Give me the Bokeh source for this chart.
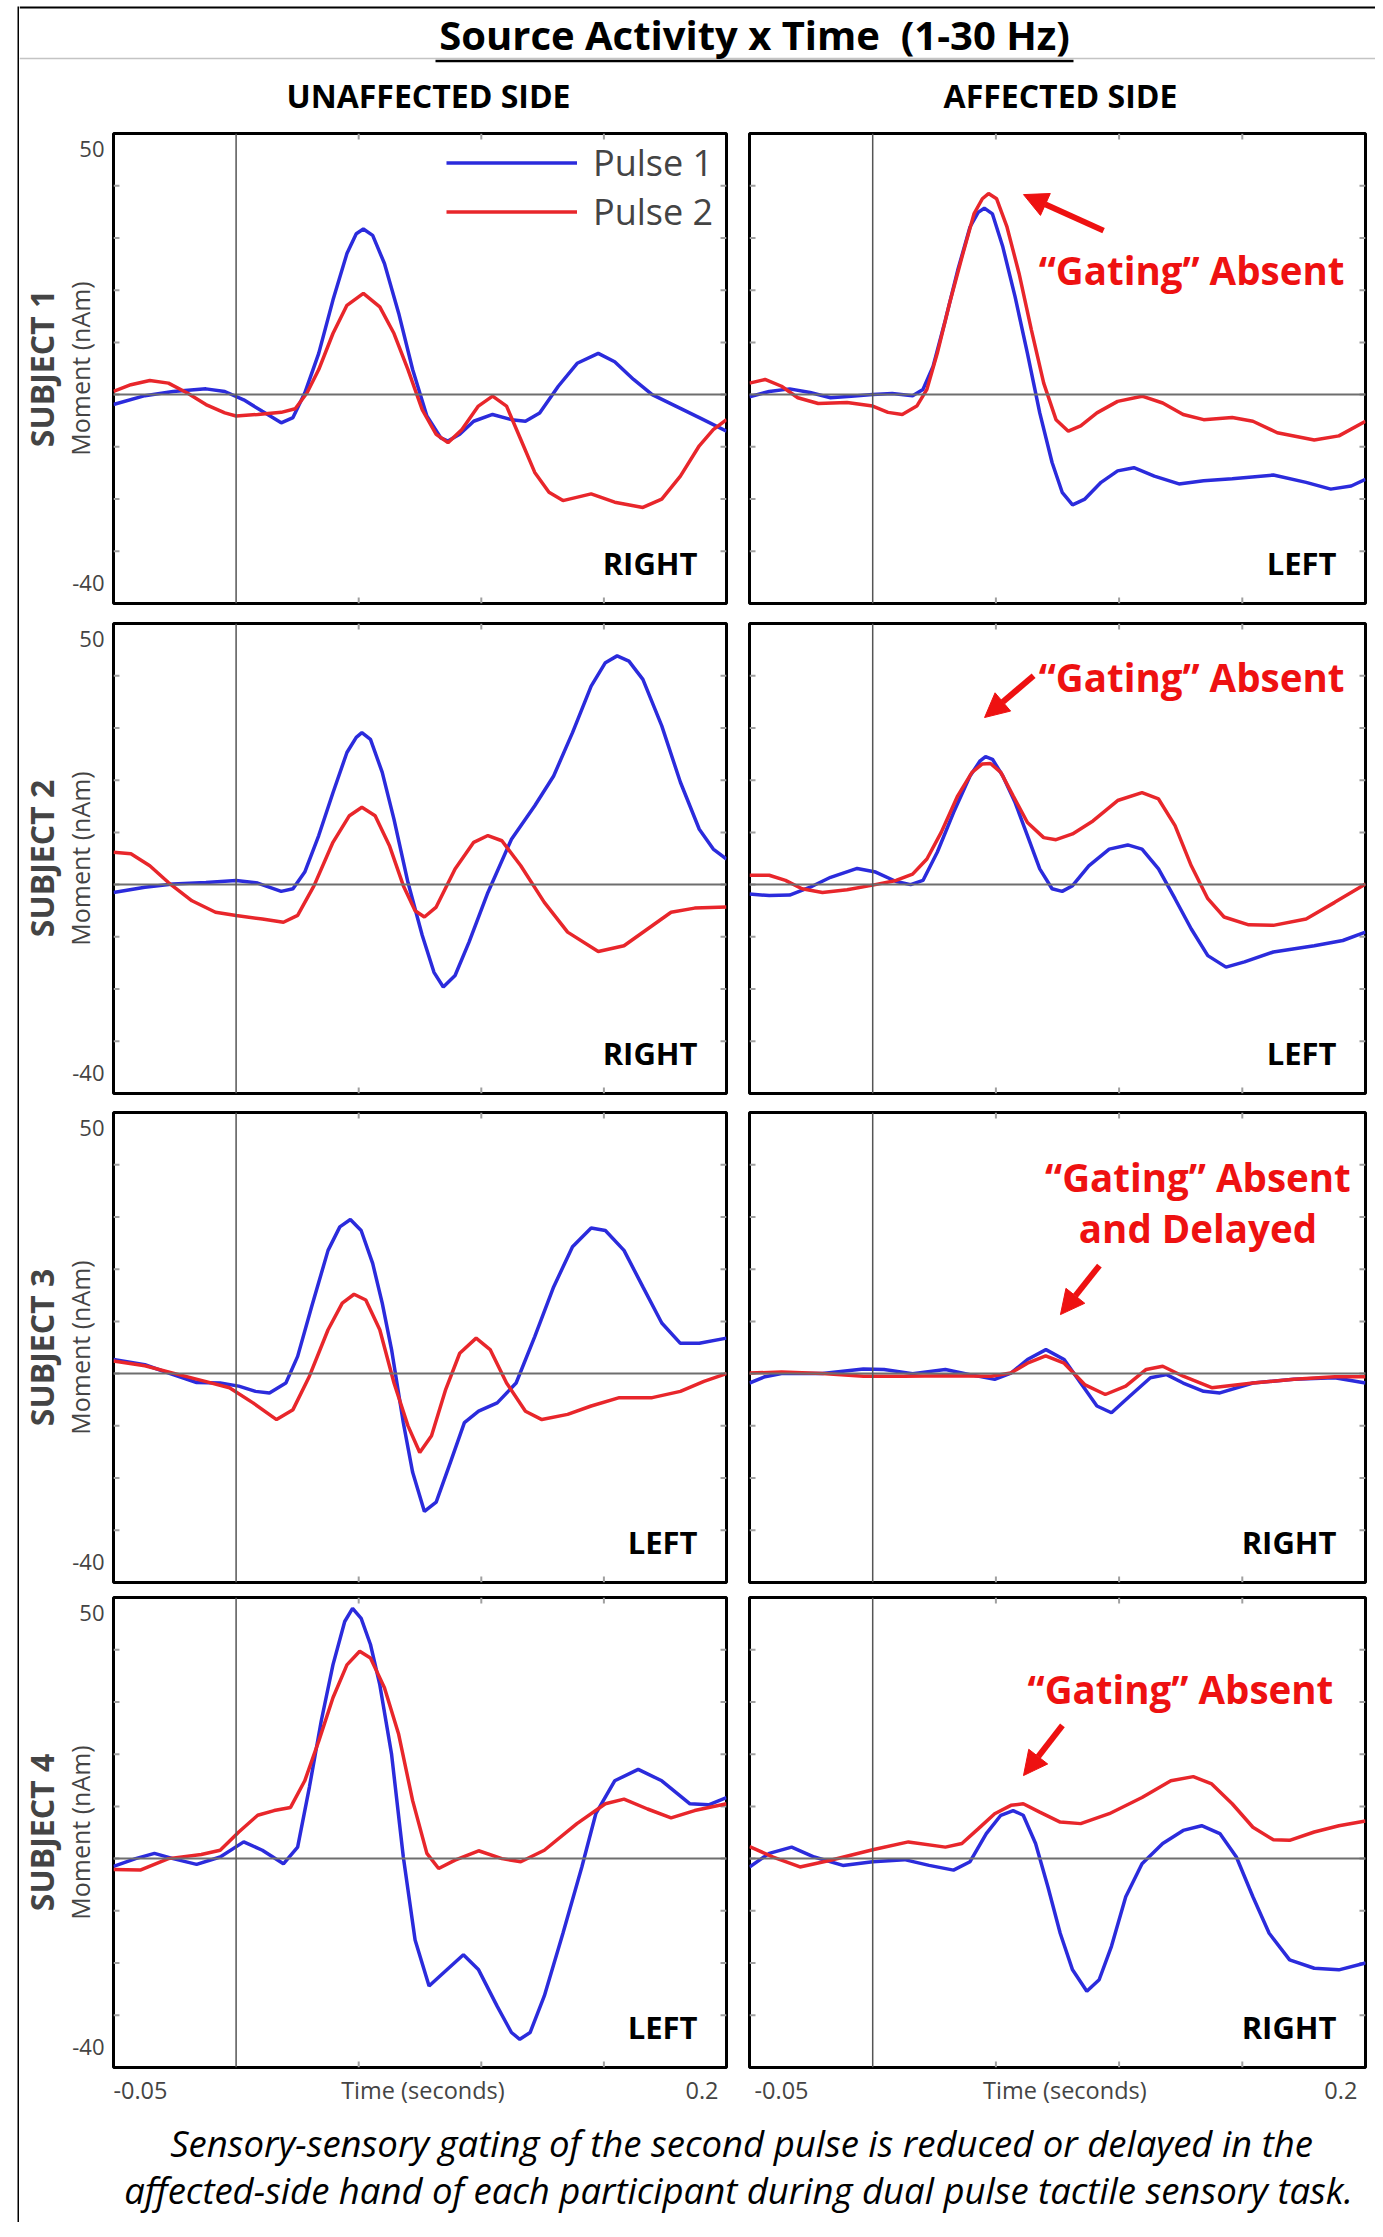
from bokeh.plotting import figure
from bokeh.layouts import column, row
from bokeh.models import (Range1d, LinearAxis, FixedTicker, Span, Label, Arrow, Title,
                          NormalHead, Legend, LegendItem, Spacer, AllLabels)
from bokeh.embed import file_html
from bokeh.resources import INLINE

# ---------------- data: time (s) and source moment (nAm) ----------------
S1U_P1_T = [-0.05, -0.0372, -0.0257, -0.0123, -0.0046, 0.0031, 0.0107, 0.0184, 0.0232, 0.028, 0.0337, 0.0395, 0.0452, 0.049, 0.0519, 0.0557, 0.0605, 0.0663, 0.072, 0.0778, 0.0835, 0.0864, 0.0912, 0.0969, 0.1046, 0.1123, 0.118, 0.1238, 0.1314, 0.1391, 0.1477, 0.1544, 0.1621, 0.1697, 0.1793, 0.1889, 0.2]
S1U_P1_V = [-1.9, -0.2, 0.6, 1.1, 0.6, -1.0, -3.2, -5.4, -4.4, 0.3, 7.9, 18.1, 27.0, 30.8, 31.7, 30.5, 25.1, 15.6, 4.8, -4.1, -8.3, -8.9, -7.6, -5.1, -3.8, -4.8, -5.1, -3.5, 1.6, 6.0, 7.9, 6.3, 2.9, 0.0, -2.2, -4.4, -7.0]
S1U_P2_T = [-0.05, -0.0429, -0.0352, -0.0276, -0.0199, -0.0123, -0.0046, 0.0, 0.0088, 0.0184, 0.0241, 0.0289, 0.0337, 0.0395, 0.0452, 0.0519, 0.0586, 0.0644, 0.0701, 0.0759, 0.0816, 0.0864, 0.0921, 0.0988, 0.1046, 0.1103, 0.1161, 0.1218, 0.1276, 0.1333, 0.1448, 0.1544, 0.1659, 0.1736, 0.1812, 0.1889, 0.1946, 0.2]
S1U_P2_V = [0.6, 1.9, 2.7, 2.2, 0.3, -1.9, -3.5, -4.1, -3.8, -3.4, -2.7, 0.3, 4.8, 11.7, 17.1, 19.4, 16.8, 11.7, 4.8, -2.9, -7.6, -9.2, -6.7, -2.2, -0.3, -2.2, -8.6, -14.9, -18.7, -20.3, -19.0, -20.6, -21.6, -20.0, -15.6, -9.8, -6.7, -4.8]

S1A_P1_T = [-0.05, -0.042, -0.0337, -0.0254, -0.0171, -0.0087, 0.0, 0.0079, 0.0162, 0.0204, 0.0245, 0.0295, 0.0345, 0.0395, 0.0428, 0.0453, 0.0486, 0.0528, 0.0578, 0.0628, 0.0678, 0.0728, 0.0769, 0.0811, 0.0861, 0.0927, 0.0994, 0.106, 0.1143, 0.1243, 0.1343, 0.1459, 0.1626, 0.1759, 0.1859, 0.1942, 0.2]
S1A_P1_V = [-0.4, 0.6, 1.1, 0.4, -0.6, -0.3, 0.0, 0.2, -0.2, 1.0, 5.4, 14.3, 23.8, 32.1, 34.9, 35.7, 34.6, 28.3, 18.7, 7.9, -3.5, -13.0, -18.7, -21.1, -20.0, -16.8, -14.6, -14.0, -15.6, -17.1, -16.5, -16.1, -15.4, -16.8, -18.1, -17.5, -16.2]
S1A_P2_T = [-0.05, -0.0437, -0.037, -0.0304, -0.0221, -0.0104, 0.0, 0.0062, 0.012, 0.0179, 0.022, 0.0262, 0.0312, 0.0362, 0.0411, 0.0445, 0.047, 0.0503, 0.0545, 0.0594, 0.0644, 0.0694, 0.0744, 0.0794, 0.0844, 0.091, 0.0994, 0.1093, 0.1177, 0.126, 0.1343, 0.1459, 0.1543, 0.1642, 0.1792, 0.1892, 0.2]
S1A_P2_V = [2.2, 2.9, 1.6, -0.6, -1.7, -1.5, -2.2, -3.4, -3.8, -2.2, 1.0, 7.9, 17.5, 26.3, 34.6, 37.5, 38.5, 37.5, 32.1, 23.2, 12.4, 2.2, -4.8, -7.0, -6.0, -3.5, -1.3, -0.3, -1.6, -3.8, -4.8, -4.4, -5.1, -7.3, -8.7, -7.9, -5.1]

S2U_P1_T = [-0.05, -0.0372, -0.0257, -0.0123, 0.0, 0.0088, 0.0184, 0.0232, 0.028, 0.0337, 0.0395, 0.0452, 0.049, 0.0513, 0.0548, 0.0596, 0.0644, 0.0701, 0.0759, 0.0807, 0.0845, 0.0893, 0.095, 0.1027, 0.1123, 0.1218, 0.1295, 0.1372, 0.1448, 0.1506, 0.1554, 0.1602, 0.1659, 0.1736, 0.1812, 0.1889, 0.1946, 0.2]
S2U_P1_V = [-1.5, -0.5, 0.1, 0.4, 0.8, 0.3, -1.3, -0.8, 2.4, 9.4, 17.6, 25.3, 28.2, 29.1, 27.8, 21.5, 12.5, 0.4, -9.7, -16.8, -19.6, -17.4, -11.0, -1.5, 8.7, 15.1, 20.8, 29.1, 38.0, 42.5, 43.8, 42.8, 39.3, 30.4, 19.6, 10.6, 6.8, 4.9]
S2U_P2_T = [-0.05, -0.0429, -0.0352, -0.0276, -0.018, -0.0084, 0.0, 0.0107, 0.0193, 0.0251, 0.0318, 0.0395, 0.0462, 0.0513, 0.0567, 0.0625, 0.0682, 0.073, 0.0768, 0.0816, 0.0893, 0.0969, 0.1027, 0.1084, 0.1161, 0.1257, 0.1352, 0.1477, 0.1582, 0.1678, 0.1774, 0.187, 0.2]
S2U_P2_V = [6.2, 5.9, 3.6, 0.4, -3.1, -5.3, -5.9, -6.6, -7.2, -5.9, -0.2, 8.1, 13.2, 14.8, 13.2, 7.5, -0.2, -5.0, -6.2, -4.3, 3.0, 8.1, 9.4, 8.4, 3.6, -3.4, -9.1, -12.8, -11.7, -8.5, -5.3, -4.5, -4.3]

S2A_P1_T = [-0.05, -0.042, -0.0337, -0.0254, -0.0171, -0.0063, 0.0012, 0.0095, 0.0154, 0.0204, 0.0262, 0.0328, 0.0395, 0.0436, 0.0458, 0.0486, 0.0528, 0.0578, 0.0628, 0.0678, 0.0728, 0.0769, 0.0811, 0.0877, 0.096, 0.1035, 0.1093, 0.116, 0.1227, 0.1293, 0.136, 0.1434, 0.1509, 0.1626, 0.1792, 0.1908, 0.2]
S2A_P1_V = [-1.8, -2.1, -2.0, -0.5, 1.4, 3.1, 2.4, 0.6, 0.0, 0.8, 6.2, 13.8, 20.8, 23.7, 24.5, 24.0, 20.8, 15.7, 9.4, 3.0, -0.8, -1.3, -0.2, 3.6, 6.8, 7.6, 6.8, 3.0, -2.7, -8.5, -13.6, -15.8, -14.8, -12.9, -11.7, -10.7, -9.1]
S2A_P2_T = [-0.05, -0.042, -0.0354, -0.0287, -0.0204, -0.0104, 0.0, 0.0095, 0.0162, 0.022, 0.0278, 0.0345, 0.0403, 0.0445, 0.0478, 0.052, 0.057, 0.0628, 0.0694, 0.0744, 0.0811, 0.0894, 0.0994, 0.1093, 0.116, 0.1227, 0.1293, 0.136, 0.1426, 0.1526, 0.1626, 0.1759, 0.1875, 0.2]
S2A_P2_V = [1.8, 1.8, 0.8, -0.8, -1.5, -1.0, -0.1, 0.8, 2.0, 4.9, 10.0, 17.0, 21.5, 23.1, 23.2, 21.5, 17.0, 11.9, 9.0, 8.6, 9.7, 12.2, 16.1, 17.6, 16.4, 11.3, 3.6, -2.7, -6.2, -7.7, -7.8, -6.6, -3.4, 0.1]

S3U_P1_T = [-0.05, -0.0372, -0.0257, -0.0161, -0.0065, 0.0011, 0.0079, 0.0136, 0.0203, 0.0251, 0.0308, 0.0375, 0.0423, 0.0466, 0.051, 0.0557, 0.0596, 0.0634, 0.0682, 0.072, 0.0768, 0.0816, 0.0874, 0.0931, 0.0989, 0.1065, 0.1142, 0.1218, 0.1295, 0.1372, 0.1448, 0.1506, 0.1582, 0.1659, 0.1736, 0.1812, 0.1889, 0.2]
S3U_P1_V = [2.7, 1.7, -0.2, -1.7, -1.8, -2.4, -3.4, -3.7, -1.8, 3.3, 12.8, 23.6, 28.1, 29.5, 27.4, 21.1, 13.5, 4.6, -9.4, -18.9, -26.4, -24.6, -17.0, -9.4, -7.2, -5.6, -1.8, 7.1, 16.6, 24.3, 27.9, 27.4, 23.6, 16.6, 9.7, 5.8, 5.8, 6.8]
S3U_P2_T = [-0.05, -0.0372, -0.0257, -0.0142, -0.0027, 0.0069, 0.0165, 0.0232, 0.0299, 0.0375, 0.0433, 0.0481, 0.0529, 0.0586, 0.0644, 0.0701, 0.0749, 0.0797, 0.0855, 0.0912, 0.0979, 0.1036, 0.1103, 0.118, 0.1247, 0.1352, 0.1448, 0.1563, 0.1697, 0.1812, 0.1908, 0.2]
S3U_P2_V = [2.4, 1.5, 0.1, -1.3, -2.7, -5.6, -8.8, -6.9, -0.5, 8.4, 13.5, 15.2, 14.1, 8.4, -1.8, -10.0, -15.1, -11.9, -3.0, 3.9, 6.8, 4.6, -1.8, -7.2, -8.8, -7.8, -6.2, -4.6, -4.6, -3.4, -1.5, 0.0]

S3A_P1_T = [-0.05, -0.0437, -0.037, -0.0204, -0.0038, 0.0046, 0.0162, 0.0295, 0.0395, 0.0495, 0.0561, 0.0628, 0.0703, 0.0777, 0.0844, 0.091, 0.0969, 0.1044, 0.1127, 0.1193, 0.126, 0.1343, 0.1409, 0.1543, 0.1709, 0.1875, 0.2]
S3A_P1_V = [-1.8, -0.6, 0.0, 0.0, 0.9, 0.8, 0.0, 0.8, -0.2, -1.1, 0.1, 2.7, 4.6, 2.7, -1.8, -6.2, -7.5, -4.3, -0.8, -0.2, -1.8, -3.4, -3.7, -1.8, -1.1, -0.8, -1.8]
S3A_P2_T = [-0.05, -0.037, -0.0204, -0.0037, 0.0129, 0.0295, 0.048, 0.056, 0.0628, 0.0702, 0.0777, 0.086, 0.0944, 0.1027, 0.111, 0.1177, 0.126, 0.1376, 0.1543, 0.171, 0.1875, 0.2]
S3A_P2_V = [0.1, 0.3, 0.0, -0.5, -0.5, -0.4, -0.5, 0.1, 2.0, 3.4, 2.0, -2.1, -4.0, -2.4, 0.8, 1.4, -0.5, -2.7, -1.8, -1.1, -0.6, -0.6]

S4U_P1_T = [-0.05, -0.041, -0.0333, -0.0257, -0.0161, -0.0065, 0.0031, 0.0107, 0.0193, 0.0251, 0.0299, 0.0347, 0.0395, 0.0443, 0.0475, 0.051, 0.0548, 0.0586, 0.0634, 0.0682, 0.073, 0.0787, 0.0845, 0.0927, 0.0989, 0.1065, 0.1123, 0.1157, 0.1199, 0.1257, 0.1333, 0.141, 0.1467, 0.1544, 0.164, 0.1736, 0.1851, 0.1927, 0.2]
S4U_P1_V = [-1.5, 0.0, 1.0, 0.0, -1.1, 0.3, 3.2, 1.6, -1.0, 2.2, 13.7, 26.3, 37.1, 45.4, 47.9, 46.0, 41.0, 33.3, 20.0, 0.3, -15.6, -24.4, -21.9, -18.4, -21.3, -28.3, -33.3, -34.6, -33.3, -26.3, -14.3, -1.6, 8.6, 14.9, 17.1, 14.9, 10.5, 10.3, 11.7]
S4U_P2_T = [-0.05, -0.0391, -0.0276, -0.0142, -0.0065, 0.0011, 0.0088, 0.0155, 0.0222, 0.028, 0.0337, 0.0395, 0.0452, 0.0504, 0.0548, 0.0605, 0.0663, 0.072, 0.0778, 0.0826, 0.0893, 0.0989, 0.1084, 0.1161, 0.1257, 0.139, 0.1506, 0.1582, 0.1678, 0.1774, 0.187, 0.2]
S4U_P2_V = [-2.1, -2.2, 0.0, 0.8, 1.6, 5.1, 8.3, 9.2, 9.8, 14.9, 22.5, 30.8, 37.1, 39.7, 38.4, 32.7, 23.8, 11.1, 1.0, -1.9, -0.3, 1.5, 0.0, -0.6, 1.6, 6.7, 10.5, 11.4, 9.5, 7.8, 9.2, 10.5]

S4A_P1_T = [-0.05, -0.042, -0.0329, -0.0237, -0.0121, 0.0, 0.0129, 0.0229, 0.0328, 0.0395, 0.0461, 0.052, 0.057, 0.0611, 0.0661, 0.0711, 0.0761, 0.0811, 0.0869, 0.0919, 0.0969, 0.1027, 0.1093, 0.1177, 0.126, 0.1335, 0.1409, 0.1476, 0.1543, 0.1609, 0.1692, 0.1792, 0.1892, 0.2]
S4A_P1_V = [-1.6, 1.0, 2.2, 0.3, -1.3, -0.6, -0.2, -1.3, -2.2, -0.6, 4.8, 8.3, 9.2, 8.3, 2.9, -5.4, -14.3, -21.3, -25.4, -23.2, -16.8, -7.3, -1.0, 2.9, 5.4, 6.3, 4.8, 0.3, -7.3, -14.3, -19.4, -21.0, -21.3, -20.0]
S4A_P2_T = [-0.05, -0.0404, -0.0295, -0.0171, 0.0, 0.0145, 0.0295, 0.0362, 0.0428, 0.0495, 0.0561, 0.0611, 0.0678, 0.0761, 0.0844, 0.096, 0.1093, 0.121, 0.1301, 0.1376, 0.1459, 0.1543, 0.1626, 0.1692, 0.1792, 0.1892, 0.2]
S4A_P2_V = [2.3, 0.3, -1.6, -0.3, 1.7, 3.2, 2.2, 2.9, 5.7, 8.6, 10.2, 10.5, 8.9, 7.0, 6.7, 8.6, 11.7, 14.9, 15.7, 14.3, 10.5, 6.0, 3.6, 3.5, 5.1, 6.3, 7.2]

SUBJECTS = ["SUBJECT 1", "SUBJECT 2", "SUBJECT 3", "SUBJECT 4"]
UNAFF_SIDE = ["RIGHT", "RIGHT", "LEFT", "LEFT"]
AFF_SIDE = ["LEFT", "LEFT", "RIGHT", "RIGHT"]
SERIES_NAMES = ["Pulse 1", "Pulse 2"]
COLUMN_TITLES = ["UNAFFECTED SIDE", "AFFECTED SIDE"]
X_TICKS = [0.05, 0.1, 0.15]
Y_TICKS = [-30, -20, -10, 0, 10, 20, 30, 40]
X_MIN, X_MAX = -0.05, 0.2
Y_MIN, Y_MAX = -40, 50
Y_TICK_LABELS = {47: "50", -36: "-40"}          # printed just inside the top / bottom edge
X_TICK_LABELS_L = {-0.039: "-0.05", 0.0762: "Time (seconds)", 0.19: "0.2"}
X_TICK_LABELS_R = {-0.037: "-0.05", 0.078: "Time (seconds)", 0.19: "0.2"}

# ---------------- styling ----------------
FONT = "'Open Sans', sans-serif"
BLUE = "#2b2bdc"
RED = "#e8262b"
ANN = "#ee1111"
FRAME_W, FRAME_H = 616, 470
CONTENT_W = 1356
TICK_DX = 6 * (X_MAX - X_MIN) / FRAME_W
TICK_DY = 6 * (Y_MAX - Y_MIN) / FRAME_H


def base_fig(w, h, **kw):
    p = figure(width=w, height=h, output_backend="svg", toolbar_location=None,
               x_axis_location=None, y_axis_location=None,
               background_fill_color="white", border_fill_color="white", **kw)
    p.grid.visible = False
    return p


def make_panel(col, t1, v1, t2, v2, side, top_b, bot_b):
    ml, mr = (91, 11) if col == 0 else (12, 10)
    p = base_fig(ml + FRAME_W + mr, top_b + FRAME_H + bot_b,
                 x_range=Range1d(X_MIN, X_MAX), y_range=Range1d(Y_MIN, Y_MAX),
                 min_border_left=ml, min_border_right=mr,
                 min_border_top=top_b, min_border_bottom=bot_b)
    p.outline_line_color = "black"
    p.outline_line_width = 3
    tick = dict(line_color="#a0a0a0", line_width=2)
    n = len(X_TICKS)
    p.segment(x0=X_TICKS, y0=[Y_MAX] * n, x1=X_TICKS, y1=[Y_MAX - TICK_DY] * n, **tick)
    p.segment(x0=X_TICKS, y0=[Y_MIN] * n, x1=X_TICKS, y1=[Y_MIN + TICK_DY] * n, **tick)
    m = len(Y_TICKS)
    p.segment(x0=[X_MIN] * m, y0=Y_TICKS, x1=[X_MIN + TICK_DX] * m, y1=Y_TICKS, **tick)
    p.segment(x0=[X_MAX] * m, y0=Y_TICKS, x1=[X_MAX - TICK_DX] * m, y1=Y_TICKS, **tick)
    p.add_layout(Span(location=0, dimension="width", line_color="#6e6e6e", line_width=2))
    p.add_layout(Span(location=0, dimension="height", line_color="#555555", line_width=1.5))
    rb = p.line(t1, v1, line_color=BLUE, line_width=3.5)
    rr = p.line(t2, v2, line_color=RED, line_width=3.5)
    p.add_layout(Label(x=X_MAX, y=Y_MIN, x_offset=-29, y_offset=41, text=side,
                       text_align="right", text_baseline="alphabetic", text_font=FONT,
                       text_font_style="bold", text_font_size="31px", text_color="black"))
    return p, rb, rr


def left_labels(p, subject):
    yax = LinearAxis(ticker=FixedTicker(ticks=list(Y_TICK_LABELS.keys())),
                     major_label_overrides=Y_TICK_LABELS, major_label_policy=AllLabels(),
                     axis_line_color=None, major_tick_line_color=None, minor_tick_line_color=None,
                     major_tick_in=0, major_tick_out=0, major_label_standoff=9,
                     major_label_text_font=FONT, major_label_text_font_size="22px",
                     axis_label="Moment (nAm)", axis_label_standoff=-28,
                     axis_label_text_font=FONT, axis_label_text_font_size="25px",
                     axis_label_text_font_style="normal")
    p.add_layout(yax, "left")
    p.add_layout(Title(text=subject, align="center", text_font=FONT, text_font_style="bold",
                       text_font_size="32px", standoff=-4), "left")


def x_labels(p, labels):
    xax = LinearAxis(ticker=FixedTicker(ticks=list(labels.keys())),
                     major_label_overrides=labels, major_label_policy=AllLabels(),
                     axis_line_color=None, major_tick_line_color=None, minor_tick_line_color=None,
                     major_tick_in=0, major_tick_out=0, major_label_standoff=6,
                     major_label_text_font=FONT, major_label_text_font_size="23.5px")
    p.add_layout(xax, "below")


def gating(p, lines, tx, ty_list, ax0, ay0, ax1, ay1):
    for txt, ty in zip(lines, ty_list):
        p.add_layout(Label(x=tx, y=ty, text=txt, text_align="center", text_baseline="alphabetic",
                           text_font=FONT, text_font_style="bold", text_font_size="38.5px",
                           text_color=ANN))
    p.add_layout(Arrow(x_start=ax0, y_start=ay0, x_end=ax1, y_end=ay1, line_color=ANN,
                       line_width=6, end=NormalHead(size=24, fill_color=ANN, line_color=ANN)))


UNAFF = [(S1U_P1_T, S1U_P1_V, S1U_P2_T, S1U_P2_V), (S2U_P1_T, S2U_P1_V, S2U_P2_T, S2U_P2_V),
         (S3U_P1_T, S3U_P1_V, S3U_P2_T, S3U_P2_V), (S4U_P1_T, S4U_P1_V, S4U_P2_T, S4U_P2_V)]
AFF = [(S1A_P1_T, S1A_P1_V, S1A_P2_T, S1A_P2_V), (S2A_P1_T, S2A_P1_V, S2A_P2_T, S2A_P2_V),
       (S3A_P1_T, S3A_P1_V, S3A_P2_T, S3A_P2_V), (S4A_P1_T, S4A_P1_V, S4A_P2_T, S4A_P2_V)]
BORDERS = [(10, 10), (10, 9), (10, 5), (10, 45)]
GATE = "\u201cGating\u201d Absent"
LEGEND_POS = [(333, 416), (333, 367)]   # bottom-left of each legend entry, px from frame's bottom-left

rows = []
for i in range(4):
    tb, bb = BORDERS[i]
    pl, rb, rr = make_panel(0, *UNAFF[i], UNAFF_SIDE[i], tb, bb)
    left_labels(pl, SUBJECTS[i])
    pr, _, _ = make_panel(1, *AFF[i], AFF_SIDE[i], tb, bb)
    if i == 0:
        for name, rend, pos in zip(SERIES_NAMES, (rb, rr), LEGEND_POS):
            pl.add_layout(Legend(items=[LegendItem(label=name, renderers=[rend])],
                                 location=pos, margin=0, padding=0, spacing=0,
                                 glyph_width=131, glyph_height=45, label_standoff=16,
                                 label_text_font=FONT, label_text_font_size="36px",
                                 background_fill_alpha=0, border_line_color=None))
        gating(pr, [GATE], 0.1294, [23.8], 0.0937, 31.4, 0.0612, 38.3)
    elif i == 1:
        gating(pr, [GATE], 0.1294, [39.8], 0.0653, 40.0, 0.0454, 32.0)
    elif i == 2:
        gating(pr, [GATE, "and Delayed"], 0.132, [37.7, 27.8], 0.092, 20.7, 0.0762, 11.3)
    else:
        gating(pr, [GATE], 0.1249, [32.4], 0.077, 25.5, 0.0612, 15.9)
        x_labels(pl, X_TICK_LABELS_L)
        x_labels(pr, X_TICK_LABELS_R)
    rows.append(row(pl, pr, spacing=0))

# header (pixel coordinates, y downwards from the page top)
HEAD_H = 123
head = base_fig(CONTENT_W, HEAD_H, x_range=Range1d(0, CONTENT_W), y_range=Range1d(HEAD_H, 0),
                min_border=0)
head.outline_line_color = None
head.add_layout(Span(location=7, dimension="width", line_color="black", line_width=2))
head.add_layout(Span(location=58, dimension="width", line_color="#c4c4c4", line_width=1.5))
head.segment(x0=[416], y0=[60.5], x1=[1054], y1=[60.5], line_color="black", line_width=2.5)
head.add_layout(Label(x=735, y=34, text="Source Activity x Time\u00a0 (1-30 Hz)", text_align="center",
                      text_baseline="alphabetic", text_font=FONT, text_font_style="bold",
                      text_font_size="40px", text_color="black"))
head.add_layout(Label(x=409, y=94.5, text=COLUMN_TITLES[0], text_align="center",
                      text_baseline="alphabetic", text_font=FONT, text_font_style="bold",
                      text_font_size="32px", text_color="black"))
head.add_layout(Label(x=1041, y=94.5, text=COLUMN_TITLES[1], text_align="center",
                      text_baseline="alphabetic", text_font=FONT, text_font_style="bold",
                      text_font_size="32px", text_color="black"))

# footer
FOOT_H = 110
foot = base_fig(CONTENT_W, FOOT_H, x_range=Range1d(0, CONTENT_W), y_range=Range1d(FOOT_H, 0),
                min_border=0)
foot.outline_line_color = None
foot.add_layout(Label(x=722, y=30, text="Sensory-sensory gating of the second pulse is reduced or delayed in the",
                      text_align="center", text_baseline="alphabetic", text_font=FONT,
                      text_font_style="italic", text_font_size="36.5px", text_color="black"))
foot.add_layout(Label(x=719, y=77, text="affected-side hand of each participant during dual pulse tactile sensory task.",
                      text_align="center", text_baseline="alphabetic", text_font=FONT,
                      text_font_style="italic", text_font_size="36.5px", text_color="black"))

main = column([head] + rows + [foot], spacing=0)
TOTAL_H = HEAD_H + sum(b[0] + FRAME_H + b[1] for b in BORDERS) + FOOT_H

bar = base_fig(2, TOTAL_H, min_border=0, min_border_top=6)
bar.background_fill_color = "black"
bar.outline_line_color = None

layout = row(Spacer(width=17, height=TOTAL_H), bar, main, spacing=0)

open("out.html", "w").write(file_html(layout, INLINE))
